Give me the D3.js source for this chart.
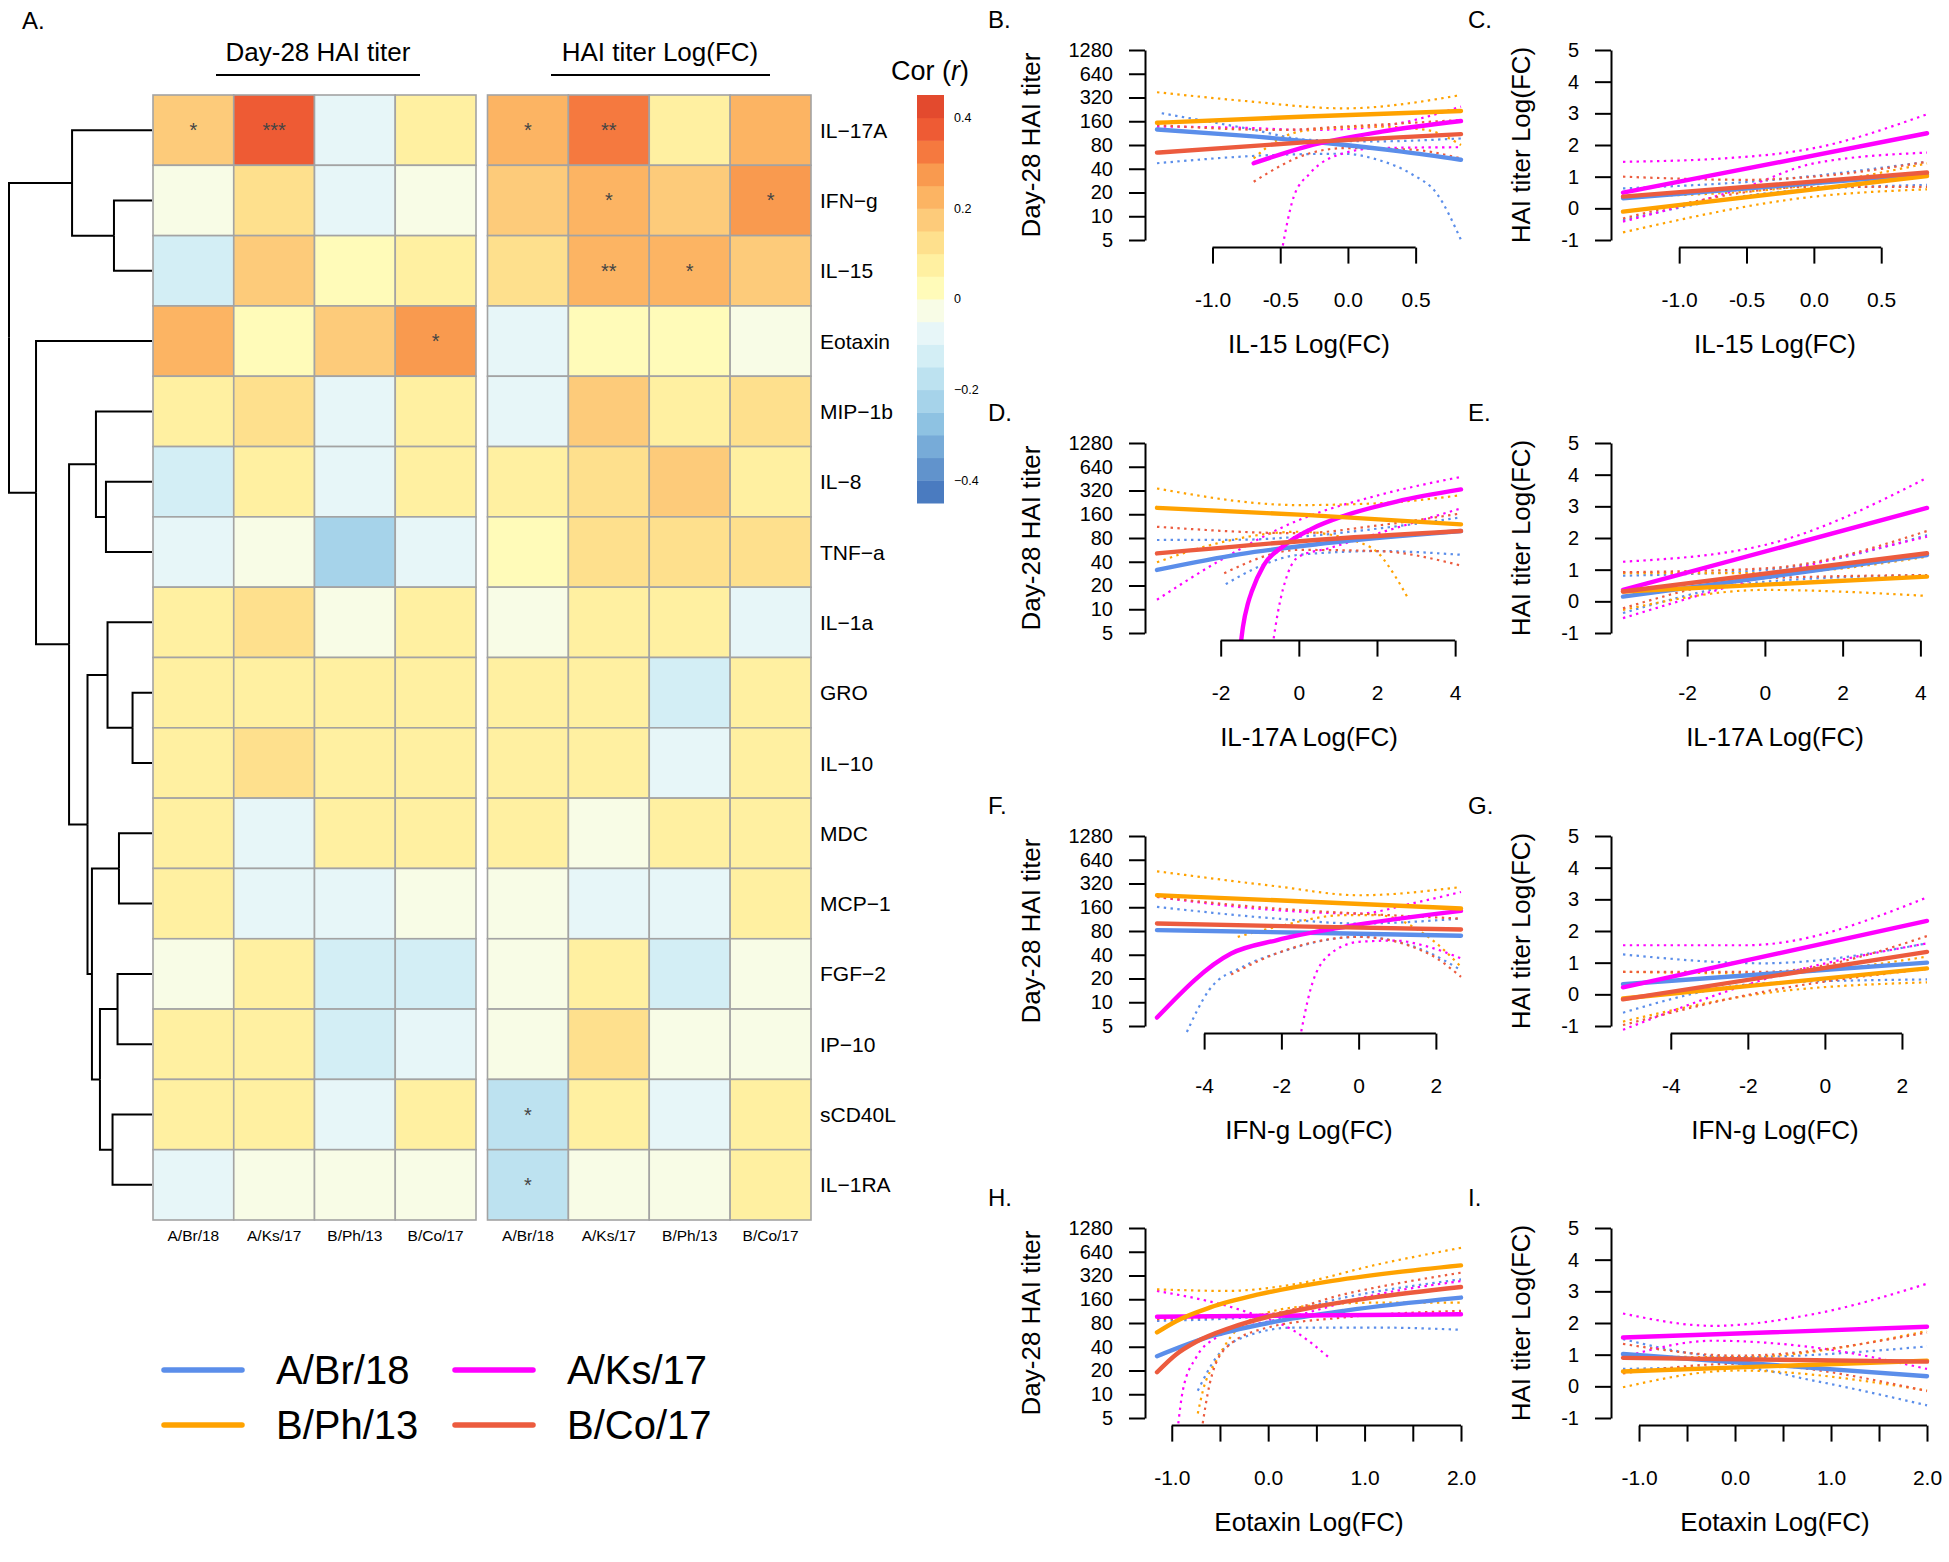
<!DOCTYPE html>
<html>
<head>
<meta charset="utf-8">
<script src="https://cdn.jsdelivr.net/npm/d3@7"></script>
<style>
  body { margin: 0; background: #fff; }
  svg text { font-family: "Liberation Sans", Arial, Helvetica, sans-serif; }
</style>
</head>
<body>
<svg id="fig" width="1949" height="1562"></svg>
<script>
// ---- heatmap data ----
var strains = ["A/Br/18", "A/Ks/17", "B/Ph/13", "B/Co/17"];
var strainColors = ["#5b8eea", "#ff00ff", "#ffa200", "#ec5b3e"];
var cytokines = ["IL−17A", "IFN−g", "IL−15", "Eotaxin", "MIP−1b", "IL−8", "TNF−a", "IL−1a",
                 "GRO", "IL−10", "MDC", "MCP−1", "FGF−2", "IP−10", "sCD40L", "IL−1RA"];

// correlation with day-28 titer (rows = cytokines, cols = strains)
var corTiter = [
  [0.19, 0.37, -0.07, 0.07],
  [-0.02, 0.12, -0.06, -0.02],
  [-0.12, 0.17, 0.03, 0.06],
  [0.21, 0.03, 0.19, 0.26],
  [0.08, 0.12, -0.07, 0.05],
  [-0.12, 0.07, -0.07, 0.05],
  [-0.06, -0.02, -0.24, -0.06],
  [0.07, 0.12, -0.02, 0.08],
  [0.06, 0.08, 0.05, 0.06],
  [0.06, 0.12, 0.05, 0.06],
  [0.08, -0.06, 0.06, 0.09],
  [0.07, -0.06, -0.07, -0.02],
  [-0.02, 0.07, -0.12, -0.12],
  [0.07, 0.08, -0.12, -0.06],
  [0.09, 0.06, -0.06, 0.06],
  [-0.06, -0.02, -0.02, -0.02]
];
// correlation with titer Log(FC)
var corFC = [
  [0.22, 0.33, 0.07, 0.22],
  [0.16, 0.22, 0.18, 0.28],
  [0.15, 0.22, 0.22, 0.17],
  [-0.06, 0.03, 0.04, -0.02],
  [-0.06, 0.18, 0.06, 0.12],
  [0.07, 0.12, 0.18, 0.07],
  [0.03, 0.13, 0.13, 0.13],
  [-0.02, 0.07, 0.07, -0.06],
  [0.06, 0.06, -0.12, 0.06],
  [0.09, 0.08, -0.07, 0.06],
  [0.06, -0.02, 0.06, 0.07],
  [-0.02, -0.07, -0.07, 0.07],
  [-0.02, 0.07, -0.12, -0.02],
  [-0.02, 0.11, -0.02, -0.02],
  [-0.2, 0.08, -0.07, 0.06],
  [-0.2, -0.02, -0.02, 0.06]
];
var starsTiter = [["IL−17A", "A/Br/18", "*"], ["IL−17A", "A/Ks/17", "***"], ["Eotaxin", "B/Co/17", "*"]];
var starsFC = [["IL−17A", "A/Br/18", "*"], ["IL−17A", "A/Ks/17", "**"], ["IFN−g", "A/Ks/17", "*"],
               ["IFN−g", "B/Co/17", "*"], ["IL−15", "A/Ks/17", "**"], ["IL−15", "B/Ph/13", "*"],
               ["sCD40L", "A/Br/18", "*"], ["IL−1RA", "A/Br/18", "*"]];
var colorTicks = [-0.4, -0.2, 0, 0.2, 0.4];

// row clustering (merge heights, root = 1)
var dendro = {h: 1.0, children: [
  {h: 0.559, children: [{name: "IL−17A"}, {h: 0.266, children: [{name: "IFN−g"}, {name: "IL−15"}]}]},
  {h: 0.811, children: [
    {name: "Eotaxin"},
    {h: 0.58, children: [
      {h: 0.392, children: [{name: "MIP−1b"}, {h: 0.322, children: [{name: "IL−8"}, {name: "TNF−a"}]}]},
      {h: 0.451, children: [
        {h: 0.311, children: [{name: "IL−1a"}, {h: 0.136, children: [{name: "GRO"}, {name: "IL−10"}]}]},
        {h: 0.42, children: [
          {h: 0.231, children: [{name: "MDC"}, {name: "MCP−1"}]},
          {h: 0.364, children: [
            {h: 0.241, children: [{name: "FGF−2"}, {name: "IP−10"}]},
            {h: 0.276, children: [{name: "sCD40L"}, {name: "IL−1RA"}]}
          ]}
        ]}
      ]}
    ]}
  ]}
]};

// ---- regression panels: fit line and the two confidence bands, [x, y] ----
var il15Titer = [
  {fit: [[-1.41, 126], [-0.8, 106], [-0.2, 86], [0.4, 66], [0.835, 52]],
   upper: [[-1.375, 202], [-0.77, 132], [-0.28, 93], [0.22, 89], [0.835, 97]],
   lower: [[-1.41, 47], [-0.52, 60], [-0.03, 62], [0.22, 52], [0.46, 35], [0.66, 19], [0.835, 5]]},
  {fit: [[-0.696, 47], [-0.3, 77], [0.25, 118], [0.835, 161]],
   upper: [[-1.41, 137], [-0.77, 132], [-0.28, 124], [0.22, 137], [0.835, 245]],
   lower: [[-0.49, 3.5], [-0.4, 17.7], [-0.28, 35], [-0.03, 63], [0.22, 73], [0.835, 75]]},
  {fit: [[-1.41, 153], [-0.3, 184], [0.835, 216]],
   upper: [[-1.41, 373], [-0.77, 290], [-0.03, 233], [0.835, 344]],
   lower: [[-0.696, 54], [-0.52, 93], [-0.28, 124], [0.22, 137], [0.58, 124], [0.835, 80]]},
  {fit: [[-1.41, 64], [-0.3, 87], [0.835, 110]],
   upper: [[-1.41, 143], [-0.52, 124], [-0.03, 137], [0.835, 166]],
   lower: [[-0.696, 27.4], [-0.28, 63], [-0.03, 73], [0.46, 70], [0.835, 54]]}
];
var il15FC = [
  {fit: [[-1.417, 0.32], [0.84, 1.08]],
   upper: [[-1.417, 0.63], [-0.3, 0.9], [0.84, 1.47]],
   lower: [[-1.417, -0.37], [-0.3, 0.5], [0.84, 0.74]]},
  {fit: [[-1.417, 0.495], [0.84, 2.37]],
   upper: [[-1.417, 1.47], [-0.66, 1.58], [0.0, 1.9], [0.84, 2.97]],
   lower: [[-1.417, -0.42], [-0.5, 0.68], [0.0, 1.42], [0.84, 1.76]]},
  {fit: [[-1.417, -0.105], [0.84, 1.02]],
   upper: [[-1.417, 0.37], [-0.3, 0.6], [0.84, 1.42]],
   lower: [[-1.417, -0.76], [0.0, 0.37], [0.84, 0.6]]},
  {fit: [[-1.417, 0.37], [0.84, 1.13]],
   upper: [[-1.417, 1.0], [-0.5, 0.9], [0.0, 1.0], [0.84, 1.47]],
   lower: [[-1.417, -0.32], [0.0, 0.68], [0.84, 0.68]]}
];
var il17aTiter = [
  {fit: [[-3.63, 31.5], [-1.5, 50], [0.5, 67], [2.5, 84], [4.15, 98]],
   upper: [[-3.63, 75.5], [-1.5, 76], [0, 83], [2, 105], [4.15, 146]],
   lower: [[-1.87, 20.8], [-1, 35], [0, 49], [2.04, 54.6], [4.15, 49]]},
  {fit: [[-1.49, 3.5], [-1.43, 6], [-1.3, 12], [-1.2, 17], [-0.9, 36], [-0.4, 63], [0.3, 103], [1.2, 155], [2.5, 232], [4.15, 330]],
   upper: [[-3.63, 13.2], [-2, 42], [0, 135], [2.04, 279], [4.15, 476]],
   lower: [[-0.67, 3.5], [-0.54, 8.9], [-0.28, 28.6], [0, 46.5], [0.75, 59], [2.04, 92], [4.15, 190]]},
  {fit: [[-3.63, 193], [0.26, 156], [4.15, 119]],
   upper: [[-3.63, 339], [0, 209], [2, 220], [4.15, 279]],
   lower: [[-3.63, 39.4], [-2.09, 68.5], [0, 96], [1.61, 68.5], [2.04, 51], [2.47, 26], [2.77, 14.5]]},
  {fit: [[-3.63, 51], [0.26, 74.5], [4.15, 98]],
   upper: [[-3.63, 111], [0, 92], [2, 115], [4.15, 164]],
   lower: [[-1.91, 28.6], [0, 56.5], [2.04, 54.6], [4.15, 35.8]]}
];
var il17aFC = [
  {fit: [[-3.65, 0.15], [4.17, 1.46]],
   upper: [[-3.65, 0.81], [0, 0.99], [4.17, 2.09]],
   lower: [[-3.65, -0.37], [0, 0.62], [4.17, 0.83]]},
  {fit: [[-3.65, 0.36], [4.17, 2.95]],
   upper: [[-3.65, 1.25], [0, 1.78], [4.17, 3.9]],
   lower: [[-3.65, -0.53], [0, 0.78], [4.17, 2.04]]},
  {fit: [[-3.65, 0.31], [4.17, 0.78]],
   upper: [[-3.65, 0.89], [0, 0.89], [4.17, 1.41]],
   lower: [[-3.65, -0.27], [0, 0.36], [4.17, 0.17]]},
  {fit: [[-3.65, 0.31], [4.17, 1.52]],
   upper: [[-3.65, 0.92], [0, 1.04], [4.17, 2.22]],
   lower: [[-3.65, -0.22], [0, 0.73], [4.17, 0.83]]}
];
var ifngTiter = [
  {fit: [[-5.22, 82], [-1.3, 76], [2.65, 69.5]],
   upper: [[-5.22, 162], [-2.13, 115], [0.01, 99.5], [2.65, 115]],
   lower: [[-4.52, 3.5], [-3.87, 14.3], [-3.0, 28.2], [-2.13, 41.5], [0.01, 67.5], [1.8, 43], [2.65, 25.5]]},
  {fit: [[-5.22, 6.4], [-3.3, 41.5], [-2.13, 61], [-0.38, 90], [2.65, 144]],
   upper: [[-5.22, 216], [-2.13, 147], [0.01, 133], [1.36, 178], [2.65, 250]],
   lower: [[-1.52, 3.5], [-1.25, 14.3], [-0.82, 37.7], [0.01, 58.3], [0.93, 60.5], [1.8, 50.5], [2.65, 36]]},
  {fit: [[-5.22, 227], [-2.13, 196], [2.65, 154]],
   upper: [[-5.22, 457], [-2.13, 295], [0.01, 227], [2.65, 289]],
   lower: [[-3.13, 67.5], [-2.13, 90], [-0.38, 127], [0.49, 127], [1.8, 67.5], [2.65, 28.2]]},
  {fit: [[-5.22, 99.5], [-1.3, 91], [2.65, 83.5]],
   upper: [[-5.22, 216], [-2.13, 154], [0.01, 133], [2.65, 115]],
   lower: [[-3.3, 22.5], [-2.13, 41.5], [0.01, 67.5], [1.8, 41.5], [2.65, 21]]}
];
var ifngFC = [
  {fit: [[-5.24, 0.32], [2.65, 1.0]],
   upper: [[-5.24, 1.26], [-1.6, 0.98], [2.65, 1.61]],
   lower: [[-5.24, -0.58], [-1.6, 0.35], [2.65, 0.47]]},
  {fit: [[-5.24, 0.22], [2.65, 2.32]],
   upper: [[-5.24, 1.55], [-2.06, 1.55], [2.65, 3.06]],
   lower: [[-5.24, -1.12], [-1.19, 0.61], [2.65, 1.61]]},
  {fit: [[-5.24, -0.13], [2.65, 0.82]],
   upper: [[-5.24, 0.71], [-1.6, 0.66], [2.65, 1.19]],
   lower: [[-5.24, -0.86], [-1.6, 0.03], [2.65, 0.38]]},
  {fit: [[-5.24, -0.16], [2.65, 1.34]],
   upper: [[-5.24, 0.71], [-1.6, 0.71], [2.65, 1.84]],
   lower: [[-5.24, -0.97], [-1.6, 0.08], [2.65, 0.8]]}
];
var eotaxinTiter = [
  {fit: [[-1.153, 30.3], [-0.6, 54], [0, 80], [0.8, 115], [2.0, 168]],
   upper: [[-1.153, 85], [-0.007, 98.6], [0.787, 168], [2.0, 286]],
   lower: [[-0.73, 11.1], [-0.537, 29.4], [-0.258, 52.5], [0.265, 70], [1.136, 70], [2.0, 65.7]]},
  {fit: [[-1.153, 96], [2.0, 103.5]],
   upper: [[-1.153, 204], [-0.258, 114], [0.265, 64], [0.648, 28]],
   lower: [[-0.94, 3.5], [-0.885, 11.2], [-0.746, 29.4], [-0.537, 52.5], [-0.258, 70], [0.3, 100], [1.0, 170], [2.0, 272]]},
  {fit: [[-1.153, 60.8], [-0.95, 85], [-0.6, 126], [-0.1, 184], [0.6, 266], [1.3, 348], [2.0, 430]],
   upper: [[-1.153, 214], [-0.432, 204], [0.265, 247], [1.136, 442], [2.0, 718]],
   lower: [[-0.73, 5.7], [-0.676, 11.2], [-0.537, 26.7], [-0.258, 77.4], [0.265, 126], [1.136, 145], [2.0, 145]]},
  {fit: [[-1.153, 19], [-0.955, 32], [-0.75, 46], [-0.4, 69], [0, 96], [0.5, 129], [1.1, 169], [2.0, 229]],
   upper: [[-1.153, 89.5], [-0.007, 103.5], [0.787, 185], [2.0, 347]],
   lower: [[-0.69, 3.5], [-0.606, 13.6], [-0.432, 39.3], [-0.007, 70], [0.787, 94], [2.0, 114]]}
];
var eotaxinFC = [
  {fit: [[-1.167, 1.02], [2.0, 0.32]],
   upper: [[-1.167, 1.49], [0.016, 0.92], [2.0, 1.26]],
   lower: [[-1.167, 0.55], [0.016, 0.6], [0.817, 0.18], [2.0, -0.6]]},
  {fit: [[-1.167, 1.54], [2.0, 1.88]],
   upper: [[-1.167, 2.3], [-0.227, 1.91], [0.817, 2.28], [2.0, 3.24]],
   lower: [[-1.167, 0.92], [-0.227, 1.44], [0.817, 1.23], [2.0, 0.55]]},
  {fit: [[-1.167, 0.47], [2.0, 0.81]],
   upper: [[-1.167, 0.95], [0.016, 0.92], [2.0, 1.75]],
   lower: [[-1.167, -0.03], [0.016, 0.5], [2.0, -0.13]]},
  {fit: [[-1.167, 0.9], [2.0, 0.78]],
   upper: [[-1.167, 1.34], [0.016, 0.97], [2.0, 1.7]],
   lower: [[-1.167, 0.41], [0.016, 0.71], [2.0, -0.15]]}
];
var titerTicks = [5, 10, 20, 40, 80, 160, 320, 640, 1280];
var fcTicks = [-1, 0, 1, 2, 3, 4, 5];

// ---- drawing ----
var svg = d3.select('#fig');
var font = '"Liberation Sans", Arial, Helvetica, sans-serif';

// palette of the correlation key, low to high (18 bands of 0.05)
var palette = ["#4a7bc0", "#6193cc", "#77abd8", "#8ec2e2", "#a6d3ea", "#bde2f0", "#d3eef5", "#e7f6f8", "#f8fce6",
               "#fffbb9", "#fff0a1", "#fee08d", "#fdcb7a", "#fcb463", "#f99a4f", "#f5793f", "#ee5b34", "#e34a2e"];
var color = d3.scaleQuantize().domain([-0.45, 0.45]).range(palette);

svg.append('text').attr('x', 22).attr('y', 29).attr('font-size', 24).text('A.');

var rowBand = d3.scaleBand().domain(cytokines).range([95, 1220]);
var blocks = [
  {title: 'Day-28 HAI titer', values: corTiter, stars: starsTiter, x0: 153, x1: 476, tx: 318, ul: [216, 420]},
  {title: 'HAI titer Log(FC)', values: corFC, stars: starsFC, x0: 487.5, x1: 811, tx: 660, ul: [551, 770]}
];

blocks.forEach(function (b) {
  var colBand = d3.scaleBand().domain(strains).range([b.x0, b.x1]);
  var g = svg.append('g');
  var cells = [];
  b.values.forEach(function (row, i) {
    row.forEach(function (v, j) {
      cells.push({row: cytokines[i], col: strains[j], v: v});
    });
  });
  g.selectAll('rect')
    .data(cells)
    .enter()
    .append('rect')
      .attr('x', function (d) { return colBand(d.col); })
      .attr('y', function (d) { return rowBand(d.row); })
      .attr('width', colBand.bandwidth())
      .attr('height', rowBand.bandwidth())
      .attr('fill', function (d) { return color(d.v); })
      .attr('stroke', '#a3a3a3')
      .attr('stroke-width', 1.6)
  ;
  g.selectAll('.star')
    .data(b.stars)
    .enter()
    .append('text')
      .attr('class', 'star')
      .attr('x', function (d) { return colBand(d[1]) + colBand.bandwidth() / 2; })
      .attr('y', function (d) { return rowBand(d[0]) + rowBand.bandwidth() / 2 + 7; })
      .attr('text-anchor', 'middle')
      .attr('font-size', 20)
      .attr('fill', '#444')
      .text(function (d) { return d[2]; })
  ;
  g.selectAll('.collab')
    .data(strains)
    .enter()
    .append('text')
      .attr('x', function (d) { return colBand(d) + colBand.bandwidth() / 2; })
      .attr('y', 1241)
      .attr('text-anchor', 'middle')
      .attr('font-size', 15.5)
      .text(function (d) { return d; })
  ;
  svg.append('text')
    .attr('x', b.tx).attr('y', 61)
    .attr('text-anchor', 'middle')
    .attr('font-size', 26)
    .text(b.title);
  svg.append('line')
    .attr('x1', b.ul[0]).attr('x2', b.ul[1])
    .attr('y1', 75).attr('y2', 75)
    .attr('stroke', '#000').attr('stroke-width', 2);
});

svg.selectAll('.rowlab')
  .data(cytokines)
  .enter()
  .append('text')
    .attr('x', 820)
    .attr('y', function (d) { return rowBand(d) + rowBand.bandwidth() / 2; })
    .attr('dy', '0.36em')
    .attr('font-size', 21)
    .text(function (d) { return d; })
;

// dendrogram
var root = d3.hierarchy(dendro);
var hx = d3.scaleLinear().domain([0, 1]).range([152, 9]);
root.eachAfter(function (n) {
  if (!n.children) {
    n.py = rowBand(n.data.name) + rowBand.bandwidth() / 2;
    n.px = hx(0);
  } else {
    n.py = d3.mean(n.children, function (c) { return c.py; });
    n.px = hx(n.data.h);
  }
});
svg.append('g').selectAll('path')
  .data(root.links())
  .enter()
  .append('path')
    .attr('d', function (l) {
      return 'M' + l.target.px + ',' + l.target.py + 'H' + l.source.px + 'V' + l.source.py;
    })
    .attr('fill', 'none')
    .attr('stroke', '#000')
    .attr('stroke-width', 2)
;

// colour key
var keyY = d3.scaleLinear().domain([-0.45, 0.45]).range([503, 95]);
var bandStep = 0.9 / palette.length;
svg.append('g').selectAll('rect')
  .data(palette)
  .enter()
  .append('rect')
    .attr('x', 917)
    .attr('width', 27)
    .attr('y', function (d, i) { return keyY(-0.45 + (i + 1) * bandStep); })
    .attr('height', function (d, i) { return keyY(-0.45 + i * bandStep) - keyY(-0.45 + (i + 1) * bandStep) + 0.5; })
    .attr('fill', function (d) { return d; })
;
svg.append('g').selectAll('text')
  .data(colorTicks)
  .enter()
  .append('text')
    .attr('x', 954)
    .attr('y', function (d) { return keyY(d); })
    .attr('dy', '0.35em')
    .attr('font-size', 12.5)
    .text(function (d) { return d < 0 ? '−' + Math.abs(d) : String(d); })
;
var cor = svg.append('text').attr('x', 930).attr('y', 80).attr('text-anchor', 'middle').attr('font-size', 27);
cor.append('tspan').text('Cor (');
cor.append('tspan').attr('font-style', 'italic').text('r');
cor.append('tspan').text(')');

// legend
var legendPos = [[164, 1370], [455, 1370], [164, 1425], [455, 1425]];
var legendOrder = [0, 1, 2, 3];
legendOrder.forEach(function (k, i) {
  var p = legendPos[i];
  svg.append('line')
    .attr('x1', p[0]).attr('x2', p[0] + 78)
    .attr('y1', p[1]).attr('y2', p[1])
    .attr('stroke', strainColors[k]).attr('stroke-width', 5.5).attr('stroke-linecap', 'round');
  svg.append('text')
    .attr('x', p[0] + 112).attr('y', p[1] + 14)
    .attr('font-size', 40)
    .text(strains[k]);
});

// regression panels
var rowTops = [50, 443, 836, 1228];
var colLeft = [1157, 1623];
var panels = [
  {label: 'B.', col: 0, row: 0, kind: 'titer', xTitle: 'IL-15 Log(FC)', xTicks: [-1, -0.5, 0, 0.5], dec: 1, lines: il15Titer},
  {label: 'C.', col: 1, row: 0, kind: 'fc', xTitle: 'IL-15 Log(FC)', xTicks: [-1, -0.5, 0, 0.5], dec: 1, lines: il15FC},
  {label: 'D.', col: 0, row: 1, kind: 'titer', xTitle: 'IL-17A Log(FC)', xTicks: [-2, 0, 2, 4], dec: 0, lines: il17aTiter},
  {label: 'E.', col: 1, row: 1, kind: 'fc', xTitle: 'IL-17A Log(FC)', xTicks: [-2, 0, 2, 4], dec: 0, lines: il17aFC},
  {label: 'F.', col: 0, row: 2, kind: 'titer', xTitle: 'IFN-g Log(FC)', xTicks: [-4, -2, 0, 2], dec: 0, lines: ifngTiter},
  {label: 'G.', col: 1, row: 2, kind: 'fc', xTitle: 'IFN-g Log(FC)', xTicks: [-4, -2, 0, 2], dec: 0, lines: ifngFC},
  {label: 'H.', col: 0, row: 3, kind: 'titer', xTitle: 'Eotaxin Log(FC)', xTicks: [-1, -0.5, 0, 0.5, 1, 1.5, 2], dec: 1, lines: eotaxinTiter},
  {label: 'I.', col: 1, row: 3, kind: 'fc', xTitle: 'Eotaxin Log(FC)', xTicks: [-1, -0.5, 0, 0.5, 1, 1.5, 2], dec: 1, lines: eotaxinFC}
];

panels.forEach(function (p, pi) {
  var left = colLeft[p.col], right = left + 304;
  var top = rowTops[p.row], bottom = top + 190;
  var padX = 12, padY = 7.6;
  var fitPts = [].concat.apply([], p.lines.map(function (s) { return s.fit; }));
  var x = d3.scaleLinear()
    .domain(d3.extent(fitPts, function (d) { return d[0]; }))
    .range([left, right]);
  var y = p.kind === 'titer'
    ? d3.scaleLog().base(2).domain([5, 1280]).range([bottom, top])
    : d3.scaleLinear().domain([-1, 5]).range([bottom, top]);

  var g = svg.append('g');
  var clipId = 'clip' + pi;
  g.append('clipPath').attr('id', clipId)
    .append('rect')
      .attr('x', left - padX).attr('y', top - padY)
      .attr('width', right - left + 2 * padX).attr('height', bottom - top + 2 * padY);

  var line = d3.line()
    .x(function (d) { return x(d[0]); })
    .y(function (d) { return y(d[1]); })
    .curve(d3.curveMonotoneX);

  var plot = g.append('g').attr('clip-path', 'url(#' + clipId + ')');
  p.lines.forEach(function (s, k) {
    [s.upper, s.lower].forEach(function (band) {
      plot.append('path')
        .attr('d', line(band))
        .attr('fill', 'none')
        .attr('stroke', strainColors[k])
        .attr('stroke-width', 2.2)
        .attr('stroke-dasharray', '2.4,4.4');
    });
  });
  p.lines.forEach(function (s, k) {
    plot.append('path')
      .attr('d', line(s.fit))
      .attr('fill', 'none')
      .attr('stroke', strainColors[k])
      .attr('stroke-width', 4.4)
      .attr('stroke-linecap', 'round');
  });

  // y axis
  var yAxis = d3.axisLeft(y)
    .tickValues(p.kind === 'titer' ? titerTicks : fcTicks)
    .tickSize(16).tickSizeOuter(0).tickPadding(16)
    .tickFormat(function (d) { return String(d); });
  var ya = g.append('g')
    .attr('transform', 'translate(' + (left - padX) + ',0)')
    .call(yAxis);
  ya.attr('font-size', 20).attr('font-family', font);
  ya.selectAll('line, path').attr('stroke-width', 2);
  ya.selectAll('text').attr('fill', '#000');

  // x axis, line only between first and last tick
  var xAxis = d3.axisBottom(x)
    .tickValues(p.xTicks)
    .tickSize(16).tickSizeOuter(0).tickPadding(28)
    .tickFormat(function (d) {
      if (p.xTicks.length > 4 && d % 1 !== 0) return '';
      return d.toFixed(p.dec);
    });
  var xa = g.append('g')
    .attr('transform', 'translate(0,' + (bottom + padY) + ')')
    .call(xAxis);
  xa.select('.domain').remove();
  xa.attr('font-size', 21).attr('font-family', font);
  xa.selectAll('line').attr('stroke-width', 2);
  xa.selectAll('text').attr('fill', '#000');
  xa.append('line')
    .attr('x1', x(p.xTicks[0])).attr('x2', x(p.xTicks[p.xTicks.length - 1]))
    .attr('stroke', '#000').attr('stroke-width', 2);

  // titles
  g.append('text')
    .attr('x', (left + right) / 2).attr('y', bottom + 113)
    .attr('text-anchor', 'middle')
    .attr('font-size', 26)
    .text(p.xTitle);
  var ytx = p.col === 0 ? 1040 : 1530;
  g.append('text')
    .attr('transform', 'translate(' + ytx + ',' + (top + bottom) / 2 + ') rotate(-90)')
    .attr('text-anchor', 'middle')
    .attr('font-size', 26)
    .text(p.kind === 'titer' ? 'Day-28 HAI titer' : 'HAI titer Log(FC)');
  g.append('text')
    .attr('x', p.col === 0 ? 988 : 1468).attr('y', top - 22)
    .attr('font-size', 24)
    .text(p.label);
});
</script>
</body>
</html>
